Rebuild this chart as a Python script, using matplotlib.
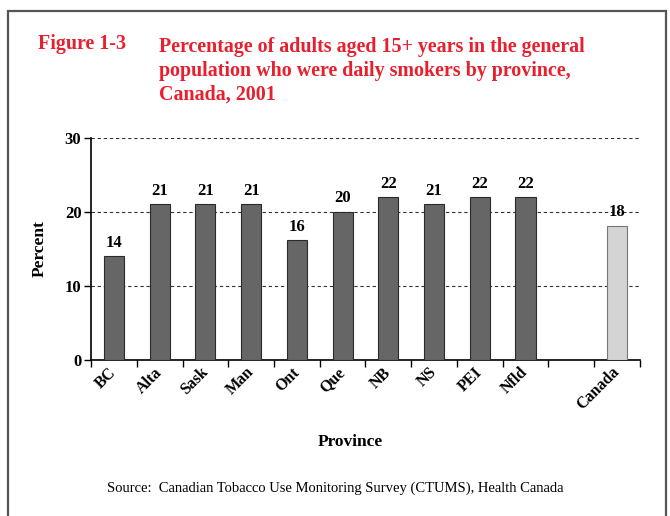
import matplotlib.pyplot as plt
import matplotlib.transforms as mtrans
from matplotlib.patches import Rectangle
import numpy as np

plt.rcParams["font.family"] = ["Liberation Serif", "DejaVu Serif"]

provinces = ["BC", "Alta", "Sask", "Man", "Ont", "Que", "NB", "NS", "PEI", "Nfld"]
prov_pct = [14, 21, 21, 21, 16.2, 20, 22, 21, 22, 22]
prov_lbl = ["14", "21", "21", "21", "16", "20", "22", "21", "22", "22"]
canada_pct = 18.1
canada_lbl = "18"

RED = "#e8202e"
DARK = "#666666"
LIGHT = "#d4d4d4"

fig = plt.figure(figsize=(6.7, 5.16), dpi=100)
ax = fig.add_axes([0.136, 0.302, 0.819, 0.431])

# provinces in slots 0-9, a blank slot, then Canada
x_prov = np.arange(len(provinces))
x_can = len(provinces) + 1
w = 0.44
ax.bar(x_prov, prov_pct, width=w, color=DARK, edgecolor="#2a2a2a", lw=0.8, zorder=3)
ax.bar([x_can], [canada_pct], width=w, color=LIGHT, edgecolor="#777777", lw=0.8, zorder=3)

for x, v, s in zip(x_prov, prov_pct, prov_lbl):
    ax.annotate(s, (x, v), xytext=(0, 4), textcoords="offset points",
                ha="center", va="bottom", fontsize=12, fontweight="bold")
ax.annotate(canada_lbl, (x_can, canada_pct), xytext=(0, 4), textcoords="offset points",
            ha="center", va="bottom", fontsize=12, fontweight="bold")

ax.set_xlim(-0.5, x_can + 0.5)
ax.set_ylim(0, 30)
ax.set_yticks([0, 10, 20, 30])
ax.yaxis.grid(True, ls=(0, (3, 2.5)), color="#333333", lw=0.8)
ax.set_axisbelow(True)
for t in ax.get_yticklabels():
    t.set_fontweight("bold")
ax.tick_params(axis="y", labelsize=12, length=5, width=1, direction="out", pad=2)

# labels under bar centres, ticks on slot boundaries
ax.set_xticks(list(x_prov) + [x_can])
ax.set_xticklabels(provinces + ["Canada"], rotation=45, ha="right",
                   rotation_mode="anchor", fontsize=11.5, fontweight="bold")
ax.tick_params(axis="x", which="major", length=0, pad=3)
shift = mtrans.ScaledTranslation(-4 / 72, 0, fig.dpi_scale_trans)
for t in ax.get_xticklabels():
    t.set_transform(t.get_transform() + shift)
ax.set_xticks(np.arange(-0.5, x_can + 1, 1), minor=True)
ax.tick_params(axis="x", which="minor", length=5, width=1, direction="out")

for side in ("top", "right"):
    ax.spines[side].set_visible(False)
for side in ("left", "bottom"):
    ax.spines[side].set_linewidth(1.2)

ax.set_ylabel("Percent", fontsize=12.5, fontweight="bold", labelpad=12)
fig.text(0.523, 0.143, "Province", ha="center", va="center",
         fontsize=12.5, fontweight="bold")

fig.text(0.057, 0.9147, "Figure 1-3", color=RED, fontsize=14.4, fontweight="bold",
         va="center")
fig.text(0.238, 0.929, "Percentage of adults aged 15+ years in the general\n"
         "population who were daily smokers by province,\nCanada, 2001",
         color=RED, fontsize=14.4, fontweight="bold", va="top", linespacing=1.27)

fig.text(0.5, 0.054, "Source:  Canadian Tobacco Use Monitoring Survey (CTUMS), Health Canada",
         ha="center", va="center", fontsize=10.5)

fig.patches.append(Rectangle((0.012, -0.05), 0.982, 1.029, transform=fig.transFigure,
                             fill=False, ec="#555555", lw=1.6))

fig.savefig("out.png", dpi=100)
